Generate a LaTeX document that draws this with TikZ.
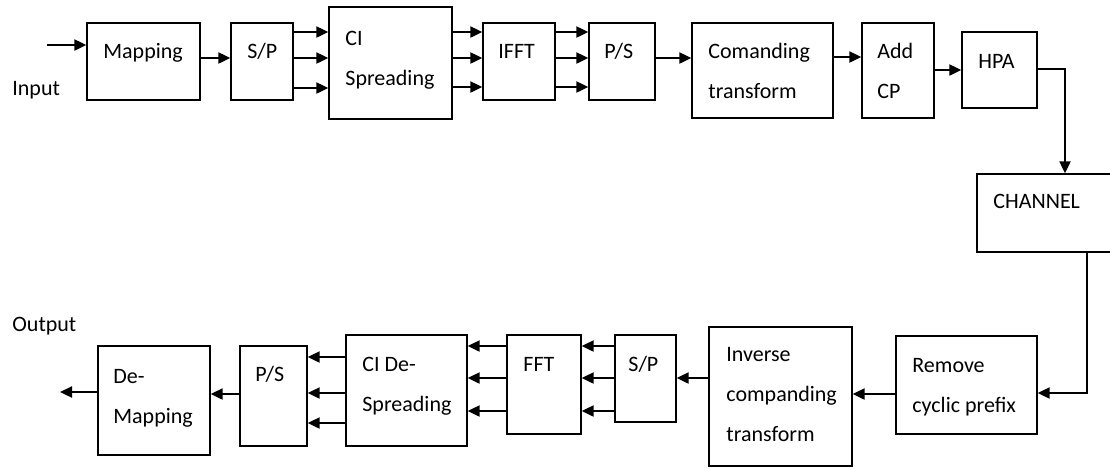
\documentclass[tikz,border=0pt]{standalone}
\usepackage{fontspec}
\setmainfont{Carlito}
\usetikzlibrary{arrows.meta, fit}

\begin{document}
\begin{tikzpicture}[
      x=0.5pt, y=-0.5pt,
      blk/.style={rectangle, draw, line width=0.7pt, inner sep=0pt},
      txt/.style={anchor=base west, inner sep=0pt, align=left, font=\fontsize{11}{20}\selectfont},
      arrow/.style={-{Triangle[length=6pt, width=5.5pt]}, line width=1.1pt}
    ]
    \useasboundingbox (0,0) rectangle (1110,468);

    % transmitter chain
    \node[blk, fit={(87,23) (200,100)}] (map) {};
    \node[blk, fit={(231,23) (293,100)}] (sp1) {};
    \node[blk, fit={(329,7) (452,119)}] (ci) {};
    \node[blk, fit={(483,23) (555,100)}] (ifft) {};
    \node[blk, fit={(589,23) (655,100)}] (ps1) {};
    \node[blk, fit={(692,23) (833,118)}] (comp) {};
    \node[blk, fit={(862,23) (934,118)}] (cp) {};
    \node[blk, fit={(962,32) (1037,108)}] (hpa) {};
    \node[blk, fit={(977,174) (1116,252)}] (chan) {};

    % receiver chain
    \node[blk, fit={(896,336) (1037,434)}] (rm) {};
    \node[blk, fit={(709,327) (852,466)}] (inv) {};
    \node[blk, fit={(615,335) (676,422)}] (sp2) {};
    \node[blk, fit={(507,335) (581,434)}] (fft) {};
    \node[blk, fit={(346,335) (467,446)}] (cid) {};
    \node[blk, fit={(240,346) (307,446)}] (ps2) {};
    \node[blk, fit={(98,346) (210,455)}] (dmap) {};

    % texts (base = last line)
    \node[txt] (in-t) at (12,95) {Input};
    \node[txt] (out-t) at (12,331) {Output};
    \node[txt] (map-t) at (103,58) {Mapping};
    \node[txt] (sp1-t) at (247,58) {S/P};
    \node[txt] (ci-t) at (345,85) {CI\\Spreading};
    \node[txt] (ifft-t) at (498,58) {IFFT};
    \node[txt] (ps1-t) at (604,58) {P/S};
    \node[txt] (comp-t) at (708,98) {Comanding\\transform};
    \node[txt] (cp-t) at (877,98) {Add\\CP};
    \node[txt] (hpa-t) at (978,68) {HPA};
    \node[txt] (chan-t) at (993,208) {CHANNEL};
    \node[txt] (rm-t) at (912,412) {Remove\\cyclic prefix};
    \node[txt] (inv-t) at (726,441) {Inverse\\companding\\transform};
    \node[txt] (sp2-t) at (628,371) {S/P};
    \node[txt] (fft-t) at (523,371) {FFT};
    \node[txt] (cid-t) at (362,411) {CI De-\\Spreading};
    \node[txt] (ps2-t) at (255,381) {P/S};
    \node[txt] (dmap-t) at (113,423) {De-\\Mapping};

    \coordinate (in) at (47,45);
    \coordinate (out) at (60,392);

    % connectors
    \draw[arrow] (in) -- (in -| map.west);
    \draw[arrow] (map.east |- 0,58) -- (sp1.west |- 0,58);
    \foreach \y in {32,58,88}
      \draw[arrow] (sp1.east |- 0,\y) -- (ci.west |- 0,\y);
    \foreach \y in {32,58,87}
      \draw[arrow] (ci.east |- 0,\y) -- (ifft.west |- 0,\y);
    \foreach \y in {32,58,87}
      \draw[arrow] (ifft.east |- 0,\y) -- (ps1.west |- 0,\y);
    \draw[arrow] (ps1.east |- 0,58) -- (comp.west |- 0,58);
    \draw[arrow] (comp.east |- 0,57) -- (cp.west |- 0,57);
    \draw[arrow] (cp.east |- 0,70) -- (hpa.west |- 0,70);
    \draw[arrow] (hpa.east |- 0,69) -| (chan.north -| 1065,0);
    \draw[arrow] (chan.south -| 1087,0) |- (rm.east |- 0,393);
    \draw[arrow] (rm.west |- 0,394) -- (inv.east |- 0,394);
    \draw[arrow] (inv.west |- 0,378) -- (sp2.east |- 0,378);
    \foreach \y in {346,378,411}
      \draw[arrow] (sp2.west |- 0,\y) -- (fft.east |- 0,\y);
    \foreach \y in {346,378,411}
      \draw[arrow] (fft.west |- 0,\y) -- (cid.east |- 0,\y);
    \foreach \y in {357,393,423}
      \draw[arrow] (cid.west |- 0,\y) -- (ps2.east |- 0,\y);
    \draw[arrow] (ps2.west |- 0,394) -- (dmap.east |- 0,394);
    \draw[arrow] (dmap.west |- 0,392) -- (out);
  \end{tikzpicture}
\end{document}
